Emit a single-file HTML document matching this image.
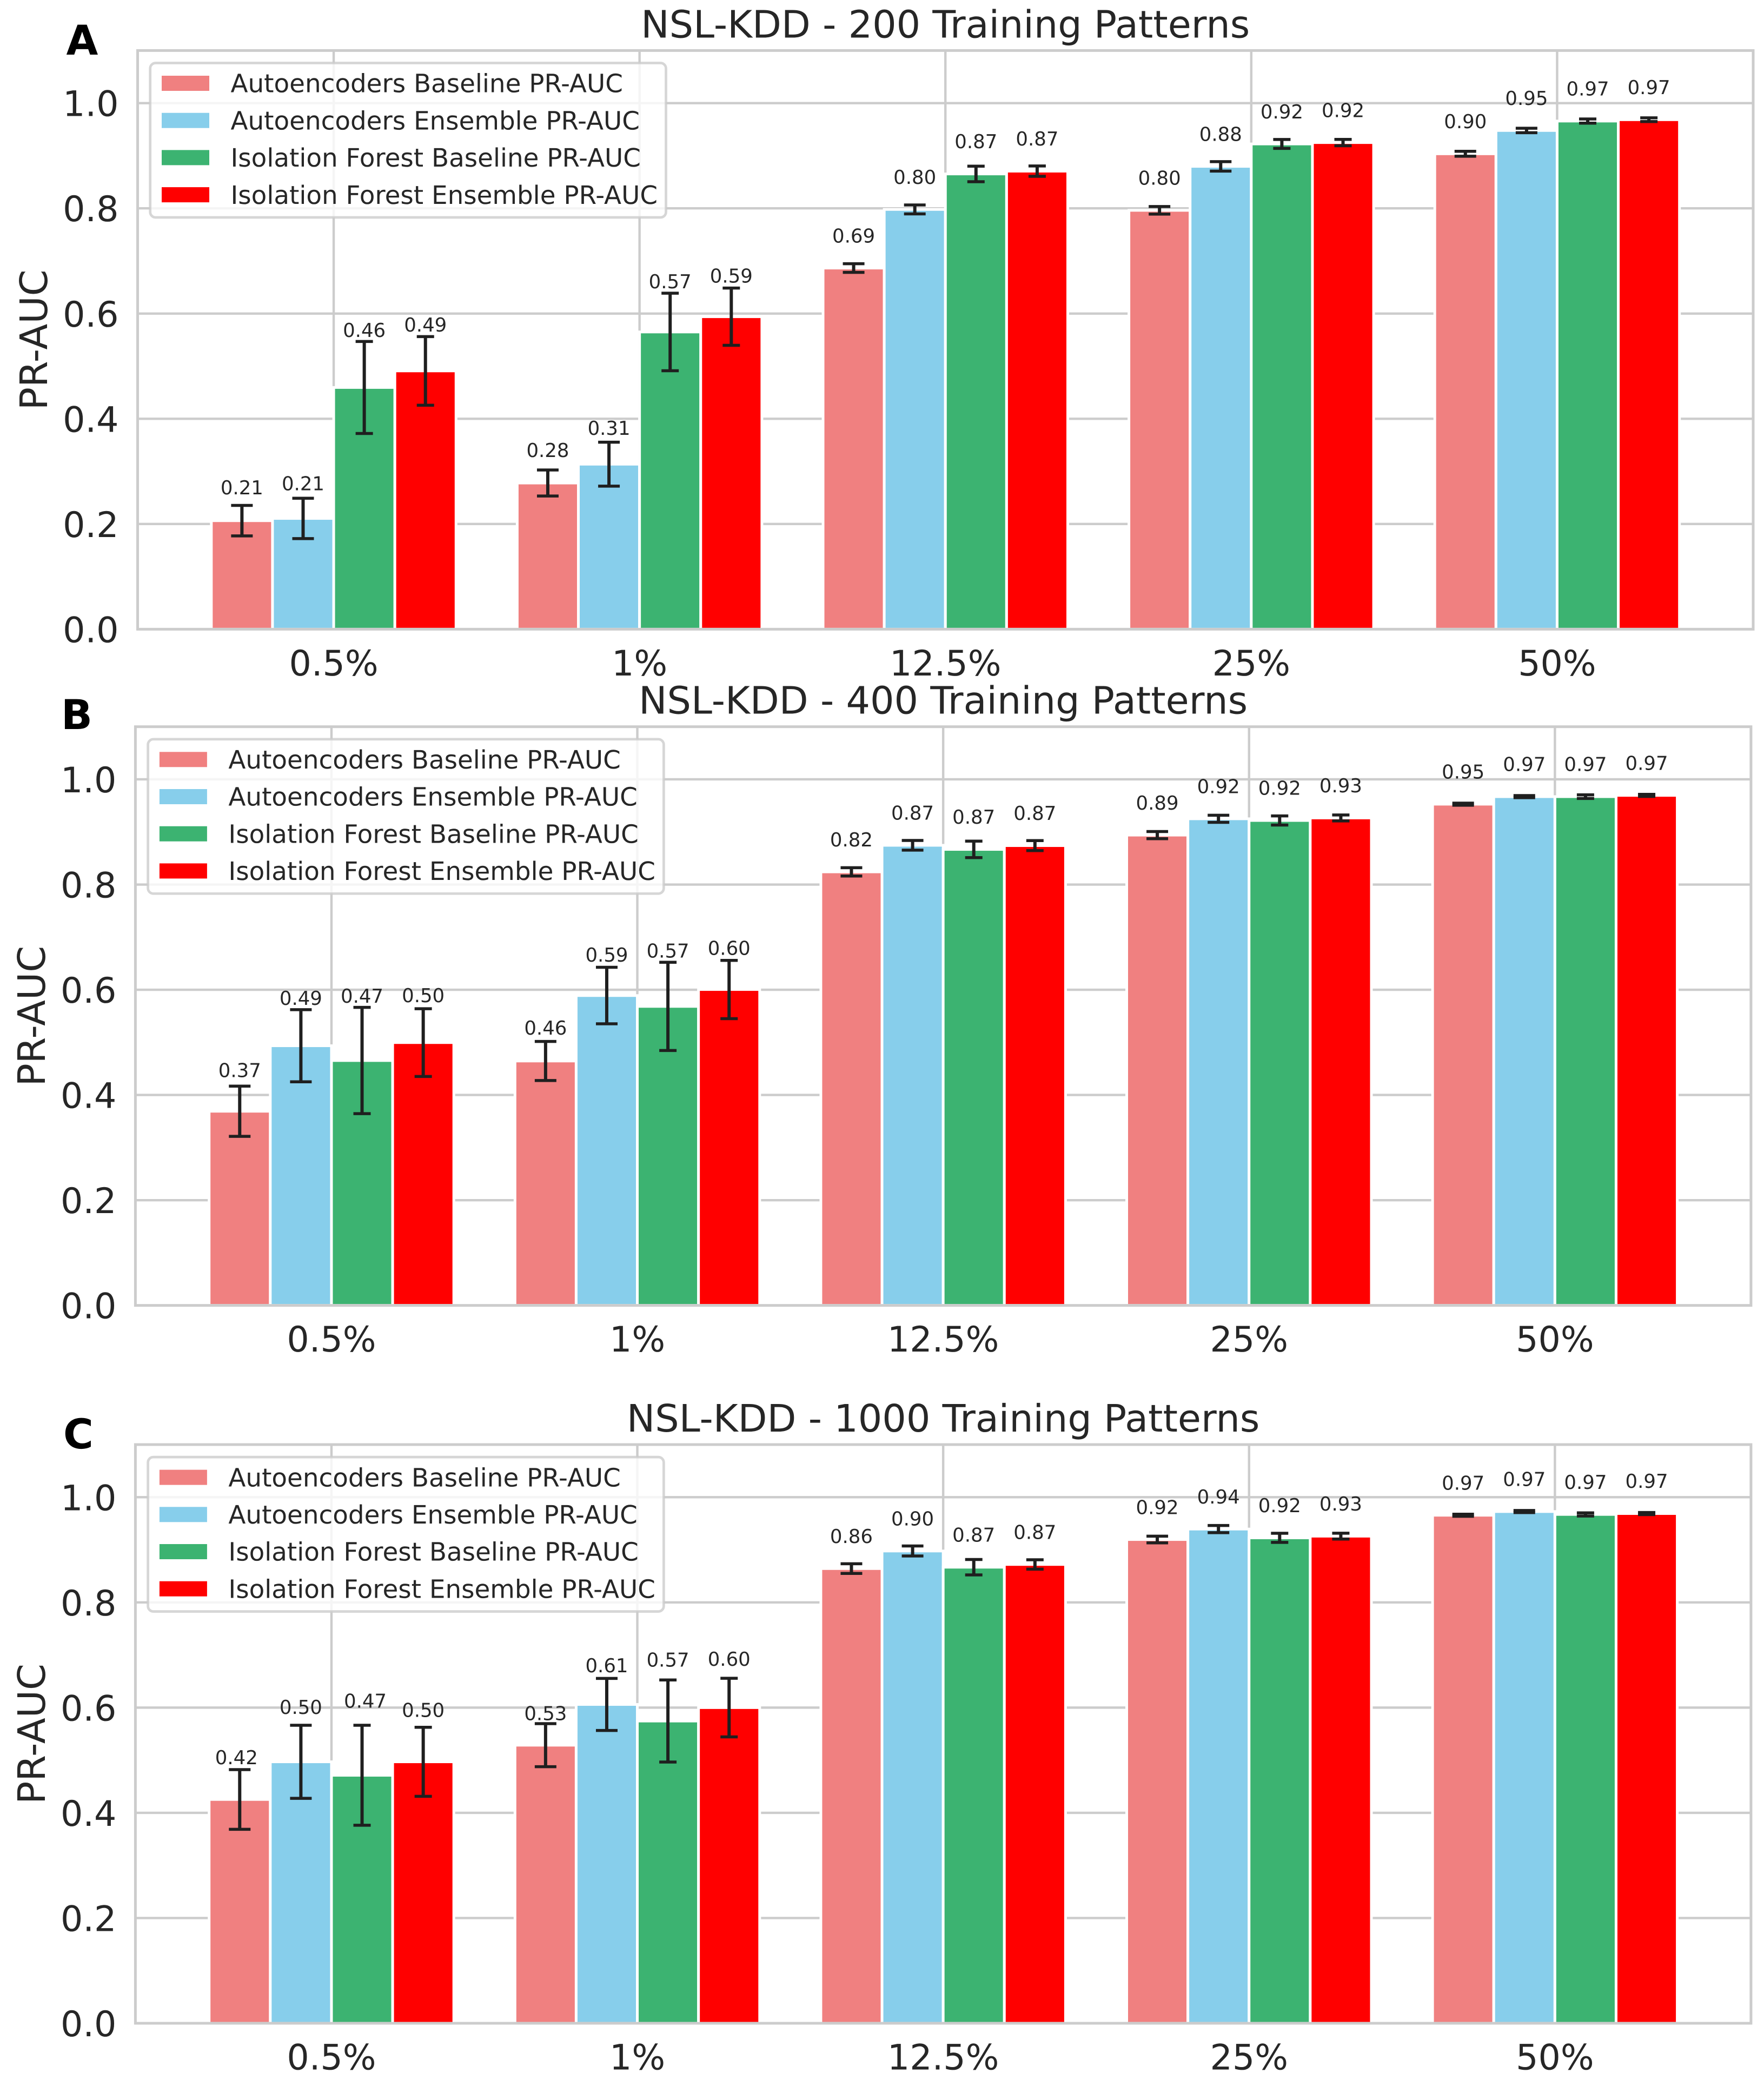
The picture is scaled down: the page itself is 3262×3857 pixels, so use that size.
<!DOCTYPE html>
<html lang="en">
<head>
<meta charset="utf-8">
<title>NSL-KDD PR-AUC by Training Patterns</title>
<style>
html,body{margin:0;padding:0;background:#fff;}
svg{display:block;}
text{font-family:"DejaVu Sans","Liberation Sans",sans-serif;fill:#262626;text-rendering:geometricPrecision;}
.title{font-size:70px;text-anchor:middle;}
.ylab{font-size:70px;text-anchor:middle;}
.letter{font-size:76px;font-weight:bold;fill:#000;}
.leg{font-size:46.8px;}
.tick{font-size:65px;}
.val{font-size:35.5px;text-anchor:middle;}
</style>
</head>
<body>
<svg xmlns="http://www.w3.org/2000/svg" width="3262" height="3857" viewBox="0 0 3262 3857">
<rect x="0" y="0" width="3262" height="3857" fill="#ffffff"/>

<g transform="translate(254.5 93.4)">
  <g id="grid-a"></g>
  <g id="bars-a"></g>
  <g id="errors-a"></g>
  <rect x="0" y="0" width="2987.5" height="1070" fill="none" stroke="#cccccc" stroke-width="5"/>
  <g id="ticks-a"></g>
  <g id="labels-a"></g>
  <text class="title" x="1493.75" y="-24">NSL-KDD - 200 Training Patterns</text>
  <text class="letter" x="-132" y="7.6">A</text>
  <text class="ylab" transform="translate(-167.5 535) rotate(-90)">PR-AUC</text>
  <g>
    <rect x="23.2" y="23.1" width="953.8" height="285.5" rx="10" ry="10" fill="#ffffff" fill-opacity="0.8" stroke="#cccccc" stroke-opacity="0.8" stroke-width="4.7"/>
    <rect x="44.5" y="46.6" width="88" height="28" fill="#F08080"/>
    <rect x="44.5" y="115.3" width="88" height="28" fill="#87CEEB"/>
    <rect x="44.5" y="184" width="88" height="28" fill="#3CB371"/>
    <rect x="44.5" y="252.7" width="88" height="28" fill="#FF0000"/>
    <text class="leg" x="172" y="77.3">Autoencoders Baseline PR-AUC</text>
    <text class="leg" x="172" y="146">Autoencoders Ensemble PR-AUC</text>
    <text class="leg" x="172" y="214.7">Isolation Forest Baseline PR-AUC</text>
    <text class="leg" x="172" y="283.4">Isolation Forest Ensemble PR-AUC</text>
  </g>
</g>

<g transform="translate(250.4 1343.7)">
  <g id="grid-b"></g>
  <g id="bars-b"></g>
  <g id="errors-b"></g>
  <rect x="0" y="0" width="2987.5" height="1070" fill="none" stroke="#cccccc" stroke-width="5"/>
  <g id="ticks-b"></g>
  <g id="labels-b"></g>
  <text class="title" x="1493.75" y="-24">NSL-KDD - 400 Training Patterns</text>
  <text class="letter" x="-137.4" y="4.3">B</text>
  <text class="ylab" transform="translate(-167.5 535) rotate(-90)">PR-AUC</text>
  <g>
    <rect x="23.2" y="23.1" width="953.8" height="285.5" rx="10" ry="10" fill="#ffffff" fill-opacity="0.8" stroke="#cccccc" stroke-opacity="0.8" stroke-width="4.7"/>
    <rect x="44.5" y="46.6" width="88" height="28" fill="#F08080"/>
    <rect x="44.5" y="115.3" width="88" height="28" fill="#87CEEB"/>
    <rect x="44.5" y="184" width="88" height="28" fill="#3CB371"/>
    <rect x="44.5" y="252.7" width="88" height="28" fill="#FF0000"/>
    <text class="leg" x="172" y="77.3">Autoencoders Baseline PR-AUC</text>
    <text class="leg" x="172" y="146">Autoencoders Ensemble PR-AUC</text>
    <text class="leg" x="172" y="214.7">Isolation Forest Baseline PR-AUC</text>
    <text class="leg" x="172" y="283.4">Isolation Forest Ensemble PR-AUC</text>
  </g>
</g>

<g transform="translate(250.4 2671)">
  <g id="grid-c"></g>
  <g id="bars-c"></g>
  <g id="errors-c"></g>
  <rect x="0" y="0" width="2987.5" height="1070" fill="none" stroke="#cccccc" stroke-width="5"/>
  <g id="ticks-c"></g>
  <g id="labels-c"></g>
  <text class="title" x="1493.75" y="-24">NSL-KDD - 1000 Training Patterns</text>
  <text class="letter" x="-133.4" y="7">C</text>
  <text class="ylab" transform="translate(-167.5 535) rotate(-90)">PR-AUC</text>
  <g>
    <rect x="23.2" y="23.1" width="953.8" height="285.5" rx="10" ry="10" fill="#ffffff" fill-opacity="0.8" stroke="#cccccc" stroke-opacity="0.8" stroke-width="4.7"/>
    <rect x="44.5" y="46.6" width="88" height="28" fill="#F08080"/>
    <rect x="44.5" y="115.3" width="88" height="28" fill="#87CEEB"/>
    <rect x="44.5" y="184" width="88" height="28" fill="#3CB371"/>
    <rect x="44.5" y="252.7" width="88" height="28" fill="#FF0000"/>
    <text class="leg" x="172" y="77.3">Autoencoders Baseline PR-AUC</text>
    <text class="leg" x="172" y="146">Autoencoders Ensemble PR-AUC</text>
    <text class="leg" x="172" y="214.7">Isolation Forest Baseline PR-AUC</text>
    <text class="leg" x="172" y="283.4">Isolation Forest Ensemble PR-AUC</text>
  </g>
</g>
</svg>

<script>
const categories = ['0.5%', '1%', '12.5%', '25%', '50%'];
const yTickLabels = ['0.0', '0.2', '0.4', '0.6', '0.8', '1.0'];

// Panel A: 200 training patterns
const aAeBaseValues = [0.2063, 0.2779, 0.6865, 0.7962, 0.9037];
const aAeEnsValues = [0.2106, 0.3137, 0.7979, 0.8798, 0.9480];
const aIfBaseValues = [0.4595, 0.5650, 0.8654, 0.9224, 0.9659];
const aIfEnsValues = [0.4910, 0.5940, 0.8707, 0.9250, 0.9685];
const aAeBaseErrors = [0.0290, 0.0247, 0.0082, 0.0072, 0.0047];
const aAeEnsErrors = [0.0384, 0.0418, 0.0085, 0.0090, 0.0043];
const aIfBaseErrors = [0.0874, 0.0737, 0.0148, 0.0085, 0.0040];
const aIfEnsErrors = [0.0652, 0.0544, 0.0098, 0.0060, 0.0035];
const aAeBaseLabels = ['0.21', '0.28', '0.69', '0.80', '0.90'];
const aAeEnsLabels = ['0.21', '0.31', '0.80', '0.88', '0.95'];
const aIfBaseLabels = ['0.46', '0.57', '0.87', '0.92', '0.97'];
const aIfEnsLabels = ['0.49', '0.59', '0.87', '0.92', '0.97'];

// Panel B: 400 training patterns
const bAeBaseValues = [0.3691, 0.4646, 0.8241, 0.8940, 0.9528];
const bAeEnsValues = [0.4936, 0.5890, 0.8746, 0.9250, 0.9671];
const bIfBaseValues = [0.4655, 0.5684, 0.8668, 0.9218, 0.9671];
const bIfEnsValues = [0.4996, 0.6005, 0.8740, 0.9266, 0.9695];
const bAeBaseErrors = [0.0477, 0.0371, 0.0079, 0.0068, 0.0020];
const bAeEnsErrors = [0.0686, 0.0537, 0.0092, 0.0068, 0.0020];
const bIfBaseErrors = [0.1010, 0.0839, 0.0157, 0.0087, 0.0035];
const bIfEnsErrors = [0.0644, 0.0554, 0.0095, 0.0056, 0.0020];
const bAeBaseLabels = ['0.37', '0.46', '0.82', '0.89', '0.95'];
const bAeEnsLabels = ['0.49', '0.59', '0.87', '0.92', '0.97'];
const bIfBaseLabels = ['0.47', '0.57', '0.87', '0.92', '0.97'];
const bIfEnsLabels = ['0.50', '0.60', '0.87', '0.93', '0.97'];

// Panel C: 1000 training patterns
const cAeBaseValues = [0.4254, 0.5286, 0.8643, 0.9195, 0.9657];
const cAeEnsValues = [0.4970, 0.6060, 0.8977, 0.9394, 0.9727];
const cIfBaseValues = [0.4714, 0.5745, 0.8669, 0.9227, 0.9672];
const cIfEnsValues = [0.4970, 0.6000, 0.8721, 0.9259, 0.9689];
const cAeBaseErrors = [0.0567, 0.0409, 0.0092, 0.0064, 0.0020];
const cAeEnsErrors = [0.0695, 0.0495, 0.0095, 0.0068, 0.0020];
const cIfBaseErrors = [0.0950, 0.0780, 0.0147, 0.0087, 0.0030];
const cIfEnsErrors = [0.0656, 0.0557, 0.0089, 0.0056, 0.0020];
const cAeBaseLabels = ['0.42', '0.53', '0.86', '0.92', '0.97'];
const cAeEnsLabels = ['0.50', '0.61', '0.90', '0.94', '0.97'];
const cIfBaseLabels = ['0.47', '0.57', '0.87', '0.92', '0.97'];
const cIfEnsLabels = ['0.50', '0.60', '0.87', '0.93', '0.97'];

const SVG_NS = 'http://www.w3.org/2000/svg';
const PLOT_W = 2987.5;
const PLOT_H = 1070;
const Y_MAX = 1.1;
const X_PAD = 0.641;
const BAR_W = 0.2;
const seriesKeys = ['ae-baseline', 'ae-ensemble', 'if-baseline', 'if-ensemble'];
const seriesColors = ['#F08080', '#87CEEB', '#3CB371', '#FF0000'];
const capWidths = [40, 40, 32, 32];

// A few value labels sit off their default anchor to avoid collisions (keyed series-category).
const labelNudges = {
  a: {},
  b: { '0-0': [0, -5], '0-1': [0, 3], '3-0': [0, -3] },
  c: {
    '0-0': [-6, 0],
    '1-0': [0, -12],
    '2-0': [6, -24],
    '3-0': [0, -10],
    '0-1': [0, 7],
    '2-1': [0, -16],
    '3-1': [0, -13]
  }
};

function xAxis(pos) { return (pos + X_PAD) / (categories.length - 1 + 2 * X_PAD) * PLOT_W; }
function yAxis(v) { return PLOT_H - v / Y_MAX * PLOT_H; }
function make(tag, parent) {
  const el = document.createElementNS(SVG_NS, tag);
  parent.appendChild(el);
  return el;
}
function setAll(el, attrs) { for (const k in attrs) el.setAttribute(k, attrs[k]); }
// Label stand-off above the bar grows smoothly with the error-bar half height.
function labelLift(errPx) {
  return Math.pow(Math.pow(47.3, 6) + Math.pow(errPx + 8.3, 6), 1 / 6);
}

function drawPanel(id, valueSets, errorSets, labelSets) {
  const grid = document.getElementById('grid-' + id);
  const bars = document.getElementById('bars-' + id);
  const errs = document.getElementById('errors-' + id);
  const ticks = document.getElementById('ticks-' + id);
  const labels = document.getElementById('labels-' + id);

  yTickLabels.forEach(function (t) {
    const v = parseFloat(t);
    const line = make('line', grid);
    setAll(line, { x1: 0, x2: PLOT_W, y1: yAxis(v), y2: yAxis(v), stroke: '#cccccc', 'stroke-width': 4.4 });
    
    
    const txt = make('text', ticks);
    setAll(txt, { class: 'tick', x: -35, y: yAxis(v) + 24, 'text-anchor': 'end' });
    
    
    txt.textContent = t;
  });

  categories.forEach(function (c, i) {
    const line = make('line', grid);
    setAll(line, { x1: xAxis(i), x2: xAxis(i), y1: 0, y2: PLOT_H, stroke: '#cccccc', 'stroke-width': 4.4 });
    
    
    const txt = make('text', ticks);
    setAll(txt, { class: 'tick', x: xAxis(i), y: PLOT_H + 85.5, 'text-anchor': 'middle' });
    
    
    txt.textContent = c;
  });

  valueSets.forEach(function (vals, s) {
    vals.forEach(function (v, i) {
      const pos = i + (s - 1.5) * BAR_W;
      const left = xAxis(pos - BAR_W / 2);
      const right = xAxis(pos + BAR_W / 2);
      const cx = xAxis(pos);
      const top = yAxis(v);
      const bar = make('rect', bars);
      setAll(bar, { x: left, y: top, width: right - left, height: PLOT_H - top, fill: seriesColors[s], stroke: '#ffffff', 'stroke-width': 5 });
      
      

      const e = errorSets[s][i];
      const hi = yAxis(v + e);
      const lo = yAxis(v - e);
      const stem = make('line', errs);
      setAll(stem, { x1: cx, x2: cx, y1: hi, y2: lo, stroke: '#1f1f1f', 'stroke-width': 6 });
      
      
      [hi, lo].forEach(function (yy) {
        const cap = make('line', errs);
        setAll(cap, { x1: cx - capWidths[s] / 2, x2: cx + capWidths[s] / 2, y1: yy, y2: yy, stroke: '#1f1f1f', 'stroke-width': 5.5 });
        
        
      });

      const nudge = labelNudges[id][s + '-' + i] || [0, 0];
      const lab = make('text', labels);
      setAll(lab, { class: 'val', x: cx + nudge[0], y: top - labelLift(lo - top) + nudge[1] });
      
      
      lab.textContent = labelSets[s][i];
    });
  });
}

drawPanel('a',
  [aAeBaseValues, aAeEnsValues, aIfBaseValues, aIfEnsValues],
  [aAeBaseErrors, aAeEnsErrors, aIfBaseErrors, aIfEnsErrors],
  [aAeBaseLabels, aAeEnsLabels, aIfBaseLabels, aIfEnsLabels]);
drawPanel('b',
  [bAeBaseValues, bAeEnsValues, bIfBaseValues, bIfEnsValues],
  [bAeBaseErrors, bAeEnsErrors, bIfBaseErrors, bIfEnsErrors],
  [bAeBaseLabels, bAeEnsLabels, bIfBaseLabels, bIfEnsLabels]);
drawPanel('c',
  [cAeBaseValues, cAeEnsValues, cIfBaseValues, cIfEnsValues],
  [cAeBaseErrors, cAeEnsErrors, cIfBaseErrors, cIfEnsErrors],
  [cAeBaseLabels, cAeEnsLabels, cIfBaseLabels, cIfEnsLabels]);
</script>
</body>
</html>
